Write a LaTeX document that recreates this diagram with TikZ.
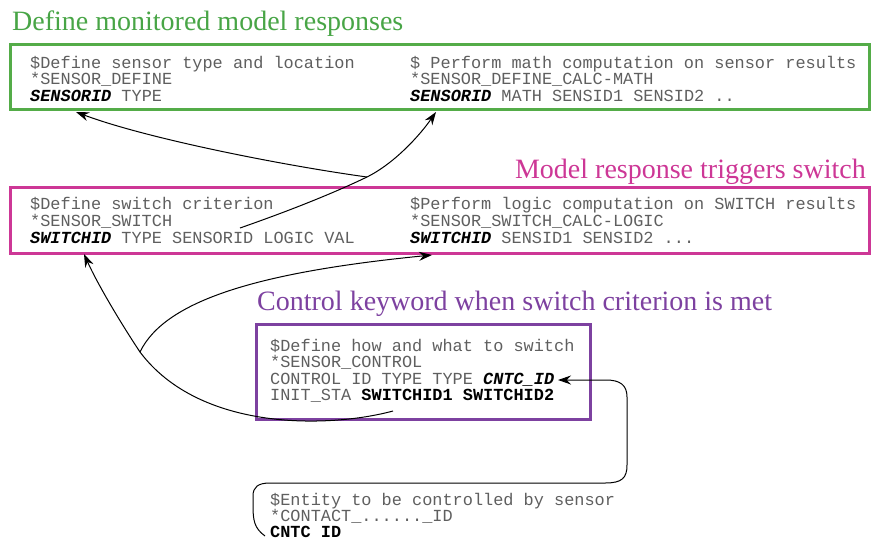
\documentclass[tikz,border=0pt]{standalone}
\usepackage{fontspec}
\newfontfamily\monof{Liberation Mono}
\newfontfamily\serf{Liberation Serif}
\usetikzlibrary{arrows.meta}
\definecolor{tgreen}{RGB}{72,165,70}
\definecolor{bgreen}{RGB}{84,172,72}
\definecolor{tpink}{RGB}{205,55,150}
\definecolor{tpurple}{RGB}{125,65,160}
\definecolor{codegray}{RGB}{95,95,95}
\newcommand\kwbi[1]{\textcolor{black}{\bfseries\itshape #1}}
\newcommand\kwb[1]{\textcolor{black}{\bfseries #1}}
\tikzset{
  titletext/.style={font=\serf\fontsize{28}{30}\selectfont, inner sep=0pt},
  codeline/.style={font=\monof\fontsize{16.9}{17}\selectfont, text=codegray, inner sep=0pt, anchor=base west},
  framebox/.style={draw, line width=3pt, inner sep=0pt, outer sep=0pt, anchor=north west},
  conn/.style={line width=1pt, -{Stealth[length=13pt,width=9pt]}},
  bare/.style={line width=1pt}
}
\begin{document}
\begin{tikzpicture}[x=1pt,y=-1pt]
\useasboundingbox (0,0) rectangle (872,542);

% titles
\node[titletext, text=tgreen, anchor=base west] (t1) at (12,30) {Define monitored model responses};
\node[titletext, text=tpink, anchor=base east] (t2) at (866,178) {Model response triggers switch};
\node[titletext, text=tpurple, anchor=base west] (t3) at (257,310) {Control keyword when switch criterion is met};

% frames
\node[framebox, draw=bgreen, minimum width=859pt, minimum height=65pt] (gbox) at (10,44) {};
\node[framebox, draw=tpink, minimum width=859pt, minimum height=66pt] (pbox) at (10,187) {};
\node[framebox, draw=tpurple, minimum width=334pt, minimum height=95pt] (ubox) at (256,324) {};

% green box text
\node[codeline] (g1) at (30,68) {\$Define sensor type and location};
\node[codeline] (g2) at (30,84.5) {*SENSOR\_DEFINE};
\node[codeline] (g3) at (30,101) {\kwbi{SENSORID} TYPE};
\node[codeline] (g4) at (410,68) {\$ Perform math computation on sensor results};
\node[codeline] (g5) at (410,84.5) {*SENSOR\_DEFINE\_CALC-MATH};
\node[codeline] (g6) at (410,101) {\kwbi{SENSORID} MATH SENSID1 SENSID2 ..};

% pink box text
\node[codeline] (p1) at (30,209) {\$Define switch criterion};
\node[codeline] (p2) at (30,226) {*SENSOR\_SWITCH};
\node[codeline] (p3) at (30,243) {\kwbi{SWITCHID} TYPE SENSORID LOGIC VAL};
\node[codeline] (p4) at (410,209) {\$Perform logic computation on SWITCH results};
\node[codeline] (p5) at (410,226) {*SENSOR\_SWITCH\_CALC-LOGIC};
\node[codeline] (p6) at (410,243) {\kwbi{SWITCHID} SENSID1 SENSID2 ...};

% purple box text
\node[codeline] (u1) at (270,351) {\$Define how and what to switch};
\node[codeline] (u2) at (270,367.5) {*SENSOR\_CONTROL};
\node[codeline] (u3) at (270,384) {CONTROL ID TYPE TYPE \kwbi{CNTC\_ID}};
\node[codeline] (u4) at (270,400.5) {INIT\_STA \kwb{SWITCHID1 SWITCHID2}};

% bottom text
\node[codeline] (b1) at (270,505) {\$Entity to be controlled by sensor};
\node[codeline] (b2) at (270,521) {*CONTACT\_......\_ID};
\node[codeline] (b3) at (270,537) {\kwb{CNTC ID}};

% connector points
\coordinate (a2s) at (240,228);
\coordinate (br1) at (367,177);
\coordinate (a1t) at (76,112);
\coordinate (a2t) at (436,112);
\coordinate (a3s) at (393,411);
\coordinate (br2) at (140,352);
\coordinate (a3t) at (84,254);
\coordinate (a4t) at (432,255);
\coordinate (a5s) at (265,536);
\coordinate (a5t) at (558,380);

% SENSORID -> both sensor definitions
\draw[bare] (a2s) .. controls (300,207) and (340,190) .. (br1);
\draw[conn] (br1) .. controls (395,163) and (420,135) .. (a2t);
\draw[conn] (br1) .. controls (280,165) and (145,138) .. (a1t);

% SWITCHID1/2 -> both switch definitions
\draw[bare] (a3s) .. controls (330,428) and (200,432) .. (br2);
\draw[conn] (br2) .. controls (122,325) and (98,285) .. (a3t);
\draw[conn] (br2) .. controls (165,300) and (260,272) .. (a4t);

% CNTC ID -> control keyword
\draw[conn] (a5s) .. controls (254,528) and (253,520) .. (253,505)
  -- (253,496) .. controls (253,487) and (258,483) .. (270,483)
  -- (605,483) .. controls (622,483) and (627,478) .. (627,465)
  -- (627,397) .. controls (627,385) and (620,380) .. (606,380)
  -- (a5t);
\end{tikzpicture}
\end{document}
